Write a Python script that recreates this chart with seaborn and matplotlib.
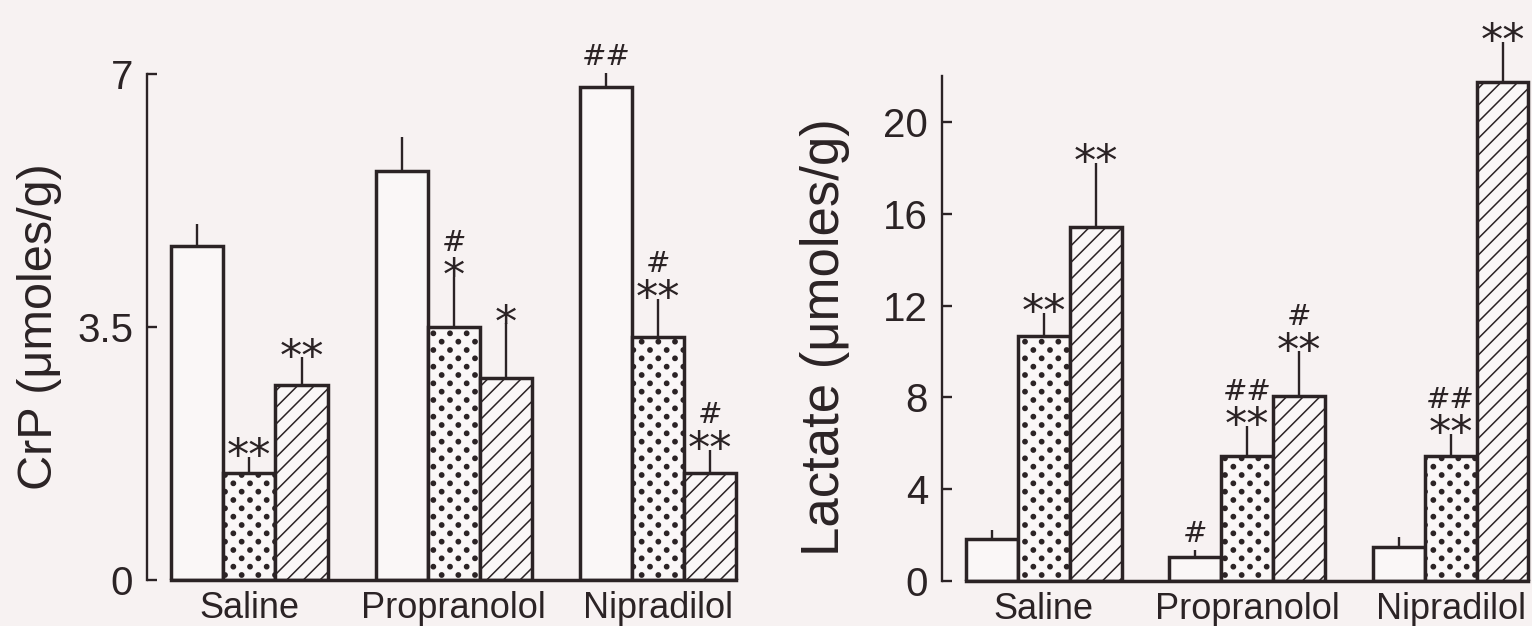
import numpy as np
import pandas as pd
import matplotlib
matplotlib.use("Agg")
import matplotlib.pyplot as plt
import matplotlib.hatch as mhatch
from matplotlib.path import Path
import seaborn as sns

# ---------------- data ----------------
groups = ["Saline", "Propranolol", "Nipradilol"]
conditions = ["Control", "Treatment A", "Treatment B"]

crp_control = [4.62, 5.66, 6.82]
crp_a = [1.48, 3.50, 3.36]
crp_b = [2.70, 2.79, 1.48]
crp_err_control = [0.30, 0.47, 0.19]
crp_err_a = [0.22, 0.69, 0.53]
crp_err_b = [0.38, 0.76, 0.32]

lac_control = [1.83, 1.05, 1.48]
lac_a = [10.68, 5.45, 5.45]
lac_b = [15.42, 8.06, 21.74]
lac_err_control = [0.39, 0.30, 0.42]
lac_err_a = [1.00, 1.30, 0.95]
lac_err_b = [2.78, 1.94, 1.76]

crp_stars = [["", "", ""], ["**", "*", "**"], ["**", "*", "**"]]
crp_hashes = [["", "", "##"], ["", "#", "#"], ["", "", "#"]]
lac_stars = [["", "", ""], ["**", "**", "**"], ["**", "**", "**"]]
lac_hashes = [["", "#", ""], ["", "##", "##"], ["", "#", ""]]

crp_ticks = [0, 3.5, 7]
crp_ticklabels = ["0", "3.5", "7"]
lac_ticks = [0, 4, 8, 12, 16, 20]

# ---------------- custom staggered dot hatch ----------------
class StaggeredDots(mhatch.HatchPatternBase):
    radius = 0.021

    def __init__(self, hatch, density):
        ncol = hatch.count('.') * density
        circle = Path.unit_circle()
        self.shape_vertices = circle.vertices
        self.shape_codes = circle.codes
        self.pts = []
        if ncol == 0:
            self.num_vertices = 0
            return
        nrow = 2 * ncol
        for i in range(nrow + 1):
            y = i / nrow
            if i % 2 == 0:
                xs = np.linspace(0, 1, ncol + 1)
            else:
                xs = np.linspace(0.5 / ncol, 1 - 0.5 / ncol, ncol)
            for x in xs:
                self.pts.append((x, y))
        self.num_vertices = len(self.pts) * len(self.shape_vertices)

    def set_vertices_and_codes(self, vertices, codes):
        n = len(self.shape_vertices)
        c = 0
        for (x, y) in self.pts:
            vertices[c:c + n] = self.shape_vertices * self.radius + (x, y)
            codes[c:c + n] = self.shape_codes
            c += n


mhatch._hatch_types = [StaggeredDots if t is mhatch.SmallFilledCircles else t
                       for t in mhatch._hatch_types]

# ---------------- style ----------------
BG = "#f7f2f2"
FACE = "#faf7f7"
INK = "#2b2325"

sns.set_theme(style="white")
plt.rcParams["font.family"] = ["Liberation Sans", "DejaVu Sans"]
plt.rcParams["hatch.color"] = INK
plt.rcParams["hatch.linewidth"] = 1.1
plt.rcParams["text.color"] = INK
plt.rcParams["axes.labelcolor"] = INK
plt.rcParams["xtick.color"] = INK
plt.rcParams["ytick.color"] = INK

W, H = 1532, 626
fig = plt.figure(figsize=(W / 100, H / 100), dpi=100, facecolor=BG)


def frame(vals_by_cond, errs_by_cond):
    rows = []
    for cond, vals, errs in zip(conditions, vals_by_cond, errs_by_cond):
        for g, v, e in zip(groups, vals, errs):
            rows.append({"group": g, "condition": cond, "value": v, "err": e})
    return pd.DataFrame(rows)


def panel(ax, df, stars, hashes):
    sns.barplot(data=df, x="group", y="value", hue="condition",
                order=groups, hue_order=conditions,
                palette=[FACE] * 3, saturation=1, width=0.765,
                edgecolor=INK, linewidth=2.5, errorbar=None,
                legend=False, ax=ax, zorder=2)
    hatches = ["", ".", "//"]
    bar_conts = list(ax.containers)[:len(conditions)]
    for ci, cont in enumerate(bar_conts):
        cond = conditions[ci]
        errs = df[df["condition"] == cond].set_index("group").loc[groups, "err"].values
        xs, ys = [], []
        for patch in cont.patches:
            patch.set_hatch(hatches[ci])
            xs.append(patch.get_x() + patch.get_width() / 2)
            ys.append(patch.get_height())
        xs = np.array(xs)
        ys = np.array(ys)
        ax.errorbar(xs, ys, yerr=[np.zeros_like(errs), errs], fmt="none",
                    ecolor=INK, elinewidth=1.7, capsize=0, zorder=1,
                    clip_on=False)
        for x, y, e, s, h in zip(xs, ys, errs, stars[ci], hashes[ci]):
            top = y + e
            if s:
                ax.annotate(s, xy=(x, top), xytext=(0, -9.5),
                            textcoords="offset points", ha="center",
                            va="baseline", fontsize=32, family="DejaVu Sans",
                            color=INK, annotation_clip=False)
            if h:
                off = 19 if s else 6
                ax.annotate(h, xy=(x, top), xytext=(0, off),
                            textcoords="offset points", ha="center",
                            va="baseline", fontsize=21, family="DejaVu Sans",
                            style="italic", color=INK, annotation_clip=False)
    ax.set_facecolor("none")
    for side in ["top", "right"]:
        ax.spines[side].set_visible(False)
    ax.spines["left"].set_linewidth(1.7)
    ax.spines["left"].set_color(INK)
    ax.spines["bottom"].set_linewidth(2.5)
    ax.spines["bottom"].set_color(INK)
    ax.spines["bottom"].set_bounds(-0.3825, 2.3825)
    ax.set_xlabel("")
    ax.tick_params(axis="x", bottom=False, length=0, pad=8, labelsize=26)
    ax.tick_params(axis="y", left=True, direction="in", length=7.5, width=1.7,
                   pad=10, labelsize=29)


# Left panel: CrP
ax1 = fig.add_axes([147.25 / W, (H - 580) / H, (744 - 147.25) / W, (580 - 74) / H])
df1 = frame([crp_control, crp_a, crp_b], [crp_err_control, crp_err_a, crp_err_b])
panel(ax1, df1, crp_stars, crp_hashes)
ax1.set_xlim(-0.5, 2.42)
ax1.set_ylim(0, 7)
ax1.set_yticks(crp_ticks)
ax1.set_yticklabels(crp_ticklabels)
ax1.set_ylabel("CrP (μmoles/g)", fontsize=35)
ax1.yaxis.label.set_verticalalignment("center")
ax1.yaxis.set_label_coords(-0.18, 0.5)

# Right panel: Lactate
ax2 = fig.add_axes([942 / W, (H - 581) / H, (W - 942) / W, (581 - 76) / H])
df2 = frame([lac_control, lac_a, lac_b], [lac_err_control, lac_err_a, lac_err_b])
panel(ax2, df2, lac_stars, lac_hashes)
ax2.set_xlim(-0.5, 2.4)
ax2.set_ylim(0, 22)
ax2.set_yticks(lac_ticks)
ax2.set_yticklabels([str(t) for t in lac_ticks])
ax2.set_ylabel("Lactate (μmoles/g)", fontsize=38)
ax2.yaxis.label.set_verticalalignment("center")
ax2.yaxis.set_label_coords(-0.198, 0.483)

fig.savefig("out.png", dpi=100, facecolor=BG)
